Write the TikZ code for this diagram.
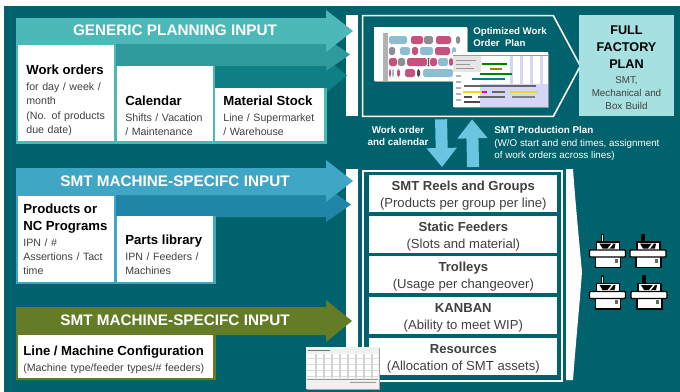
\documentclass[tikz,border=0pt]{standalone}
\usepackage{fontspec}
\setmainfont{Liberation Sans}
\usetikzlibrary{arrows.meta}
\definecolor{tealbg}{HTML}{00626C}
\definecolor{genericA}{HTML}{4DB8B8}
\definecolor{genericB}{HTML}{2F9A9C}
\definecolor{genericC}{HTML}{0F7F86}
\definecolor{smtA}{HTML}{3FA6C6}
\definecolor{smtB}{HTML}{2185A8}
\definecolor{oliveA}{HTML}{657C26}
\definecolor{factory}{HTML}{A6E0E0}
\definecolor{flowblue}{HTML}{6CC5E0}
\definecolor{barblue}{HTML}{8DBDD0}
\definecolor{barpink}{HTML}{C8507F}
\definecolor{bargrey}{HTML}{8A8F94}
\definecolor{stripe}{HTML}{D5D5F5}
\tikzset{
	banner/.style={text=white, font=\bfseries\fontsize{8.7}{10}\selectfont},
	card/.style={fill=white, anchor=north west, inner sep=0pt},
	cardtext/.style={anchor=south west, align=left, inner sep=0pt, text=black!75, font=\fontsize{6.05}{8.1}\selectfont},
	slot/.style={fill=white, anchor=north west, inner sep=0pt, minimum width=3.76cm, minimum height=.74cm, align=center, text=black!75, font=\fontsize{7.45}{10}\selectfont},
	plaintext/.style={text=white, align=left, inner sep=0pt, font=\fontsize{5.6}{7}\selectfont},
	flow/.style={flowblue, line width=.24cm, -{Triangle[length=.38cm,width=.58cm]}, shorten <=.06cm, shorten >=.06cm},
	machine/.pic={
		\draw[fill=white, line width=.7pt] (-6,-19) rectangle (-4,-11.5);
		\draw[fill=white, line width=.7pt] (-11,-11.5) rectangle (12,-3);
		\fill (-8,-10) -- (8,-10) -- (7,-5) -- (-5,-5) -- cycle;
		\fill[white] (0,-5) -- (4,-10) -- (6,-10) -- (2,-5) -- cycle;
		\draw[fill=white, line width=.7pt] (-12,3) rectangle (13,14);
		\fill[black!60] (7,5) rectangle (10,9);
		\draw[fill=white, line width=.8pt, rounded corners=.5pt] (-18,-3.5) rectangle (18,3.5);
	}
}
\newcommand{\cardhead}[1]{{\bfseries\color{black}\fontsize{7.5}{9.6}\selectfont #1\par}\vspace{1pt}}
\newcommand{\slothead}[1]{\rule{0pt}{7.2pt}\textbf{#1}}
\begin{document}
\begin{tikzpicture}[x=.02cm,y=-.02cm]
	\useasboundingbox (0,0) rectangle (680,392);
	\fill[tealbg] (4,6) rectangle (680,392);

	% white columns behind the arrow tips
	\fill[white] (346,15) rectangle (358,116);
	\fill[white] (346,169) rectangle (358,380);

	% input arrows
	\foreach \ytop/\ybot/\yup/\ylow/\xtip/\col in {
		65/90/58/93/347/genericC, 44/66/38/71/350/genericB, 18/44/10/52/353/genericA,
		195/217/187/222/351/smtB, 168/195/160/202/353/smtA, 307/335/300/342/352/oliveA}
	\fill[\col] (16,\ytop) -- (326,\ytop) -- (326,\yup) -- (\xtip,{(\yup+\ylow)/2})
		-- (326,\ylow) -- (326,\ybot) -- (16,\ybot) -- cycle;

	\node[banner] (generic) at (175,30) {GENERIC PLANNING INPUT};
	\node[banner] (smtinput) at (175,181) {SMT MACHINE-SPECIFC INPUT};
	\node[banner] (lineinput) at (175,320) {SMT MACHINE-SPECIFC INPUT};

	% backing strips of the cards
	\fill[genericA] (16,44) rectangle (116,144);
	\fill[genericA] (116,66) rectangle (215,144);
	\fill[genericA] (215,88) rectangle (327,144);
	\fill[smtA] (16,195) rectangle (116,284);
	\fill[smtA] (116,216) rectangle (216,284);
	\fill[oliveA] (16,334) rectangle (216,380);

	\node[card, minimum width=1.92cm, minimum height=1.92cm] (orders) at (18,45) {};
	\node[card, minimum width=1.92cm, minimum height=1.5cm] (calendar) at (117,66) {};
	\node[card, minimum width=2.18cm, minimum height=1.06cm] (stock) at (215,88) {};
	\node[card, minimum width=1.92cm, minimum height=1.72cm] (programs) at (18,196) {};
	\node[card, minimum width=1.92cm, minimum height=1.32cm] (library) at (117,216) {};
	\node[card, minimum width=3.9cm, minimum height=.86cm] (config) at (18,335) {};

	\node[cardtext, text width=1.8cm] (orderstext) at (26,136) {\cardhead{Work orders}for day / week /\\month\\(No. of products\\due date)};
	\node[cardtext, text width=1.8cm] (calendartext) at (125,136) {\cardhead{Calendar}Shifts / Vacation\\/ Maintenance};
	\node[cardtext, text width=2.1cm] (stocktext) at (223,136) {\cardhead{Material Stock}Line / Supermarket\\/ Warehouse};
	\node[cardtext, text width=1.85cm] (programstext) at (23,275) {\cardhead{Products or\\NC Programs}IPN / \#\\Assertions / Tact\\time};
	\node[cardtext, text width=1.8cm] (librarytext) at (125,275) {\cardhead{Parts library}IPN / Feeders /\\Machines};
	\node[cardtext, text width=3.8cm] (configtext) at (23,374) {\cardhead{Line / Machine Configuration}(Machine type/feeder types/\# feeders)};

	% order plan
	\node[inner sep=0pt, minimum width=3.8cm, minimum height=2cm] (plan) at (458,66) {};
	\draw[white, line width=.9pt] (plan.north west) -- (plan.north east) -- ([xshift=.54cm]plan.east)
		-- (plan.south east) -- (plan.south west) -- cycle;
	\node[plaintext, anchor=north west, font=\bfseries\fontsize{5.5}{7.1}\selectfont] (plantitle) at (473,27) {Optimized Work\\Order\ \ Plan};

	% first chart
	\fill[black!35] (375,28) rectangle (468,82);
	\fill[white] (374,27) rectangle (467,81);
	\fill[black!30] (383,33) rectangle (388,81);
	\foreach \ya/\xa/\xb/\col in {
		36/389/407/barblue, 36/411/423/barpink, 36/424/433/bargrey, 36/436/451/barpink, 36/456/460/bargrey,
		47/389/395/bargrey, 47/400/410/barblue, 47/412/418/barpink, 47/420/433/barblue, 47/435/450/barpink, 47/452/456/barblue,
		58/389/397/barpink, 58/398/405/bargrey, 58/407/427/barpink, 58/428/429/black!70, 58/430/437/barpink, 58/438/448/barblue, 58/449/453/barpink,
		69/389/391/barpink, 69/392/394/barblue, 69/397/400/barpink, 69/405/415/barpink, 69/417/420/black!70, 69/423/453/barblue}
	\fill[\col, rounded corners=1pt] (\xa,\ya) rectangle (\xb,\ya+8);

	% second chart
	\fill[black!45] (454,53) rectangle (549,108);
	\fill[white] (453,52) rectangle (548,107);
	\fill[stripe] (480,84) rectangle (548,107);
	\foreach \xa in {510,520,530,540}
	\fill[stripe] (\xa,56) rectangle (\xa+3,107);
	\foreach \ya/\xa/\xb/\col in {
		64/482/507/green!50!black, 69/490/502/olive, 74/480/512/green!50!black, 79/472/505/teal,
		86/464/536/black!60, 92/463/482/yellow!90!black, 92/482/487/magenta, 92/492/505/black!60, 92/510/537/yellow!90!black,
		97/464/472/black!70, 97/478/505/black!60, 97/512/535/black!50, 102/464/480/black!70}
	\draw[\col, line width=1.2pt] (\xa,\ya) -- (\xb,\ya);
	\fill[black!10] (453,55) rectangle (481,72);
	\draw[black!40, line width=.3pt] (453,55) -- (548,55) (456,60) -- (476,60) (456,64) -- (470,64) (456,68) -- (474,68);
	\foreach \ya in {76,82,88,94,100}
	\draw[black!30, line width=.8pt] (456,\ya) -- (461,\ya);

	\node[card, fill=factory, minimum width=1.9cm, minimum height=2.02cm] (full) at (579,15) {};
	\node[inner sep=0pt, text width=1.9cm, align=center, text=black!75, font=\fontsize{5.6}{7.3}\selectfont] (fulltext) at (626.5,67.5)
		{{\bfseries\color{black}\fontsize{7.2}{9.7}\selectfont FULL\\FACTORY\\PLAN\par}\vspace{1.5pt}SMT,\\Mechanical and\\Box Build};

	% slots
	\node[draw=white, line width=1.3pt, inner sep=0pt, anchor=north west, minimum width=3.98cm, minimum height=4.2cm] (slots) at (362,170) {};
	\node[slot] (reels) at (369,175) {\slothead{SMT Reels and Groups}\\(Products per group per line)};
	\node[slot] (feeders) at (369,216) {\slothead{Static Feeders}\\(Slots and material)};
	\node[slot] (trolleys) at (369,256) {\slothead{Trolleys}\\(Usage per changeover)};
	\node[slot] (kanban) at (369,297) {\slothead{KANBAN}\\(Ability to meet WIP)};
	\node[slot] (resources) at (369,338) {\slothead{Resources}\\(Allocation of SMT assets)};

	\fill[white] (566,169) -- (573,169) .. controls (576,210) and (580,250) .. (582,272)
		.. controls (580,300) and (576,340) .. (573,380) -- (566,380) -- cycle;

	% flows between plan and slots
	\draw[flow] ([xshift=-.34cm]plan.south) -- ([xshift=-.41cm]slots.north);
	\draw[flow] ([xshift=.21cm]slots.north) -- ([xshift=.28cm]plan.south);

	\node[plaintext, align=center, font=\bfseries\fontsize{5.6}{7}\selectfont] (orderflow) at (398,136) {Work order\\and calendar};
	\node[plaintext, anchor=north west] (smtplan) at (494,126.5) {\textbf{SMT Production Plan}\\(W/O start and end times, assignment\\of work orders across lines)};

	\pic at (607.5,253.5) {machine};
	\pic at (648,253.5) {machine};
	\pic at (607.5,295) {machine};
	\pic at (649,295) {machine};

	% small table
	\fill[black!35] (307,348) rectangle (380,390);
	\fill[black!6] (306,347) rectangle (379,389);
	\fill[white] (307,354) rectangle (378,378);
	\draw[black!55, line width=.4pt] (308,350) -- (330,350);
	\foreach \xa in {316,324,332,340,348,356,364,372}
	\draw[black!18, line width=.8pt] (\xa,354) -- (\xa,378);
	\foreach \ya in {358,364,370,376}
	\draw[black!15, line width=.3pt] (307,\ya) -- (378,\ya);
	\draw[black!40, line width=.4pt] (307,379) -- (378,379) (350,382) -- (376,382);
\end{tikzpicture}
\end{document}
